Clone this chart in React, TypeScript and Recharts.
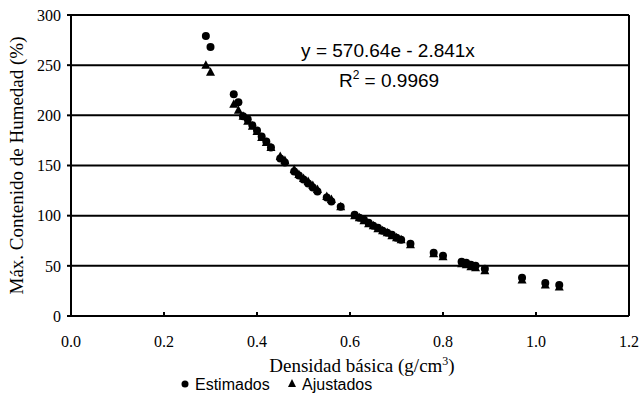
import { ScatterChart, Scatter, XAxis, YAxis, CartesianGrid, ReferenceLine, Customized } from 'recharts'

// densidad básica (g/cm3) de cada muestra
const densidad = [0.29, 0.30, 0.35, 0.36, 0.37, 0.38, 0.39, 0.40, 0.41, 0.42, 0.43, 0.45, 0.46, 0.48, 0.49, 0.50, 0.51, 0.52, 0.53, 0.55, 0.56, 0.58, 0.61, 0.62, 0.63, 0.64, 0.65, 0.66, 0.67, 0.68, 0.69, 0.70, 0.71, 0.73, 0.78, 0.80, 0.84, 0.85, 0.86, 0.87, 0.89, 0.97, 1.02, 1.05]
const estimados = [279, 268, 221, 213, 199, 196, 190, 185, 179, 174, 168, 157, 153, 144, 140, 136, 132, 128, 124, 118, 114, 109, 101, 98, 96, 93, 90, 88, 85, 83, 81, 78, 76, 72, 63, 60, 54, 53, 51, 50, 47, 38, 33, 31]
const ajustados = [250, 243, 211, 205, 199, 194, 189, 184, 178, 173, 168, 159, 155, 146, 141, 137, 134, 130, 126, 119, 116, 109, 100, 98, 95, 92, 90, 87, 85, 83, 80, 78, 76, 71, 62, 59, 52, 51, 49, 48, 45, 36, 31, 29]

const xTicks = [0, 0.2, 0.4, 0.6, 0.8, 1.0, 1.2]
const yTicks = [0, 50, 100, 150, 200, 250, 300]

const serif = '"Liberation Serif", "Times New Roman", serif'
const sans = '"Liberation Sans", Arial, sans-serif'

const estData = densidad.map((x, i) => ({ x, y: estimados[i] }))
const ajuData = densidad.map((x, i) => ({ x, y: ajustados[i] }))

const Dot = (p: any) => <circle cx={p.cx} cy={p.cy} r={4} fill="#000" />
const Tri = (p: any) => (
  <polygon points={`${p.cx},${p.cy - 5} ${p.cx - 4.5},${p.cy + 3.5} ${p.cx + 4.5},${p.cy + 3.5}`} fill="#000" />
)

const YLabel = (props: any) => {
  const vb = props.viewBox
  const cy = vb.y + vb.height / 2
  return (
    <text x={16} y={cy} transform={`rotate(-90, 16, ${cy})`} textAnchor="middle" dominantBaseline="central"
      fontFamily={serif} fontSize={19} fill="#000">
      Máx. Contenido de Humedad (%)
    </text>
  )
}

const XLabel = (props: any) => {
  const vb = props.viewBox
  return (
    <text x={vb.x + vb.width / 2 + 12} y={vb.y + 56} textAnchor="middle" fontFamily={serif} fontSize={19} fill="#000">
      Densidad básica (g/cm<tspan dy={-7} fontSize={12}>3</tspan><tspan dy={7}>)</tspan>
    </text>
  )
}

const Extras = () => (
  <g>
    <text x={388} y={57} textAnchor="middle" fontFamily={sans} fontSize={19} fill="#000">y = 570.64e - 2.841x</text>
    <text x={389} y={87} textAnchor="middle" fontFamily={sans} fontSize={19} fill="#000">
      R<tspan dy={-8} fontSize={12}>2</tspan><tspan dy={8}> = 0.9969</tspan>
    </text>
    <circle cx={185} cy={384} r={3.5} fill="#000" />
    <text x={195} y={390} fontFamily={sans} fontSize={16} fill="#000">Estimados</text>
    <polygon points="292,379 288,387 296,387" fill="#000" />
    <text x={302} y={390} fontFamily={sans} fontSize={16} fill="#000">Ajustados</text>
  </g>
)

export default function App() {
  return (
    <div style={{ position: 'absolute', left: 0, top: 0, width: 643, height: 393, background: '#fff' }}>
      <ScatterChart width={643} height={393} margin={{ top: 15, right: 14, bottom: 0, left: 0 }}>
        <CartesianGrid horizontal vertical={false} stroke="#000" strokeWidth={2} />
        <XAxis type="number" dataKey="x" domain={[0, 1.2]} ticks={xTicks} height={77}
          tickFormatter={(v: number) => v.toFixed(1)} axisLine={{ stroke: '#000', strokeWidth: 2 }}
          tickLine={false} tickSize={0} tickMargin={20}
          tick={{ fill: '#000', fontFamily: serif, fontSize: 16 }} label={{ content: XLabel }} />
        <YAxis type="number" dataKey="y" domain={[0, 300]} ticks={yTicks} width={71}
          axisLine={{ stroke: '#000', strokeWidth: 2 }} tickLine={{ stroke: '#000', strokeWidth: 2 }}
          tickSize={4} tickMargin={6}
          tick={{ fill: '#000', fontFamily: serif, fontSize: 16 }} label={{ content: YLabel }} />
        <ReferenceLine x={1.2} stroke="#000" strokeWidth={2} />
        {xTicks.map((t) => (
          <ReferenceLine key={t} segment={[{ x: t, y: 0 }, { x: t, y: 4 }]} stroke="#000" strokeWidth={2} />
        ))}
        <Scatter name="Ajustados" data={ajuData} shape={Tri} isAnimationActive={false} />
        <Scatter name="Estimados" data={estData} shape={Dot} isAnimationActive={false} />
        <Customized component={Extras} />
      </ScatterChart>
    </div>
  )
}
